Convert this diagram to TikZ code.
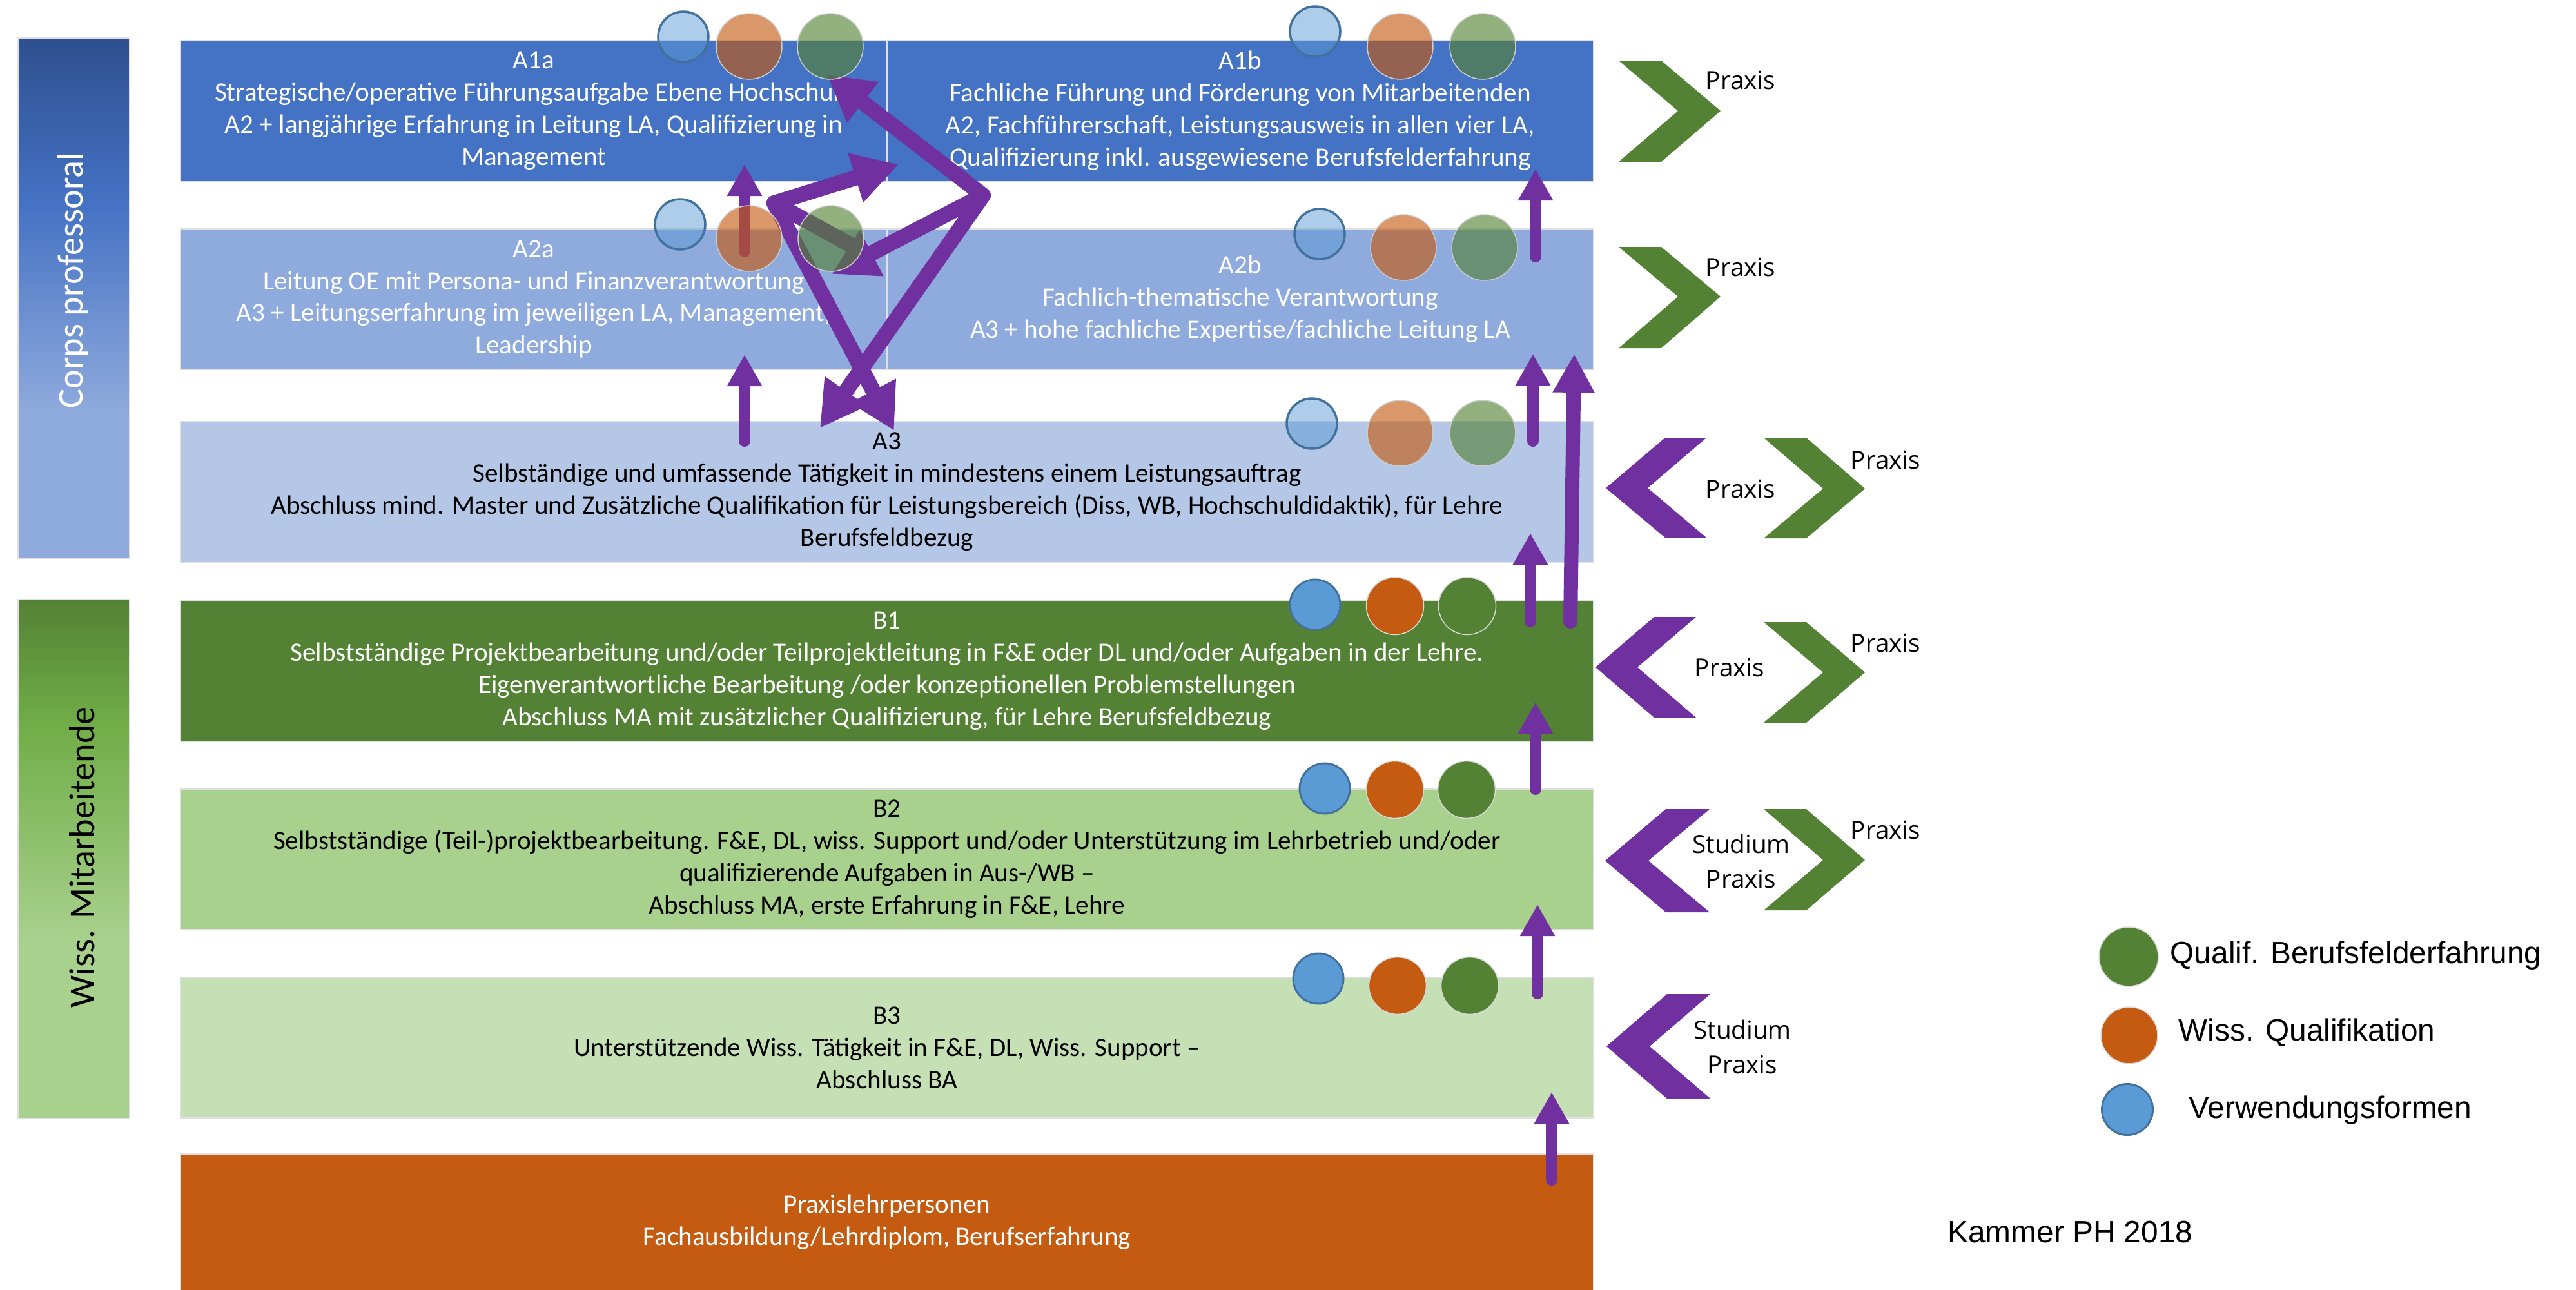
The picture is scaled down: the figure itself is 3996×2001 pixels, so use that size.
\documentclass[tikz,border=0pt]{standalone}
\usepackage{fontspec}
\setmainfont{Carlito}
\newfontfamily\praxisfont{Open Sans}
\newfontfamily\legendfont{Liberation Sans}
\usetikzlibrary{arrows.meta}

\definecolor{profdark}{RGB}{46,80,144}
\definecolor{profmid}{RGB}{68,114,196}
\definecolor{proflight}{RGB}{143,170,220}
\definecolor{profpale}{RGB}{180,199,231}
\definecolor{wissdark}{RGB}{84,130,53}
\definecolor{wissmid}{RGB}{112,173,71}
\definecolor{wisslight}{RGB}{169,209,142}
\definecolor{wisspale}{RGB}{197,224,180}
\definecolor{praxisorange}{RGB}{197,90,17}
\definecolor{arrowpurple}{RGB}{112,48,160}
\definecolor{verwblue}{RGB}{91,155,213}
\definecolor{verwedge}{RGB}{65,113,156}

% side shadings, path spans 25bp..75bp
\pgfdeclareverticalshading{corpsshade}{100bp}{color(0bp)=(proflight); color(39bp)=(proflight); color(59bp)=(profmid); color(75bp)=(profdark); color(100bp)=(profdark)}
\pgfdeclareverticalshading{wissshade}{100bp}{color(0bp)=(wisslight); color(42bp)=(wisslight); color(63bp)=(wissmid); color(75bp)=(wissdark); color(100bp)=(wissdark)}

\begin{document}
\begin{tikzpicture}[x=0.1mm, y=-0.1mm,
  rowbox/.style={rectangle, draw=black!12, line width=0.2mm, inner sep=0pt, align=center,
    minimum height=21.8mm, font=\fontsize{11.7}{14.2}\selectfont},
  sidebox/.style={rectangle, draw=black!12, line width=0.2mm, minimum width=17.3mm},
  uparrow/.style={draw=arrowpurple, line width=1.8mm, line cap=round, -{Triangle[length=4.9mm, width=5.1mm]}},
  zigarrow/.style={draw=arrowpurple, line width=2.4mm, line join=round, line cap=round},
  vcircA/.style={circle, inner sep=0pt, minimum size=7.8mm, fill=verwblue, fill opacity=0.5, draw=verwedge, line width=0.35mm},
  wcircA/.style={circle, inner sep=0pt, minimum size=10.2mm, fill=praxisorange, fill opacity=0.63, draw=black!20, line width=0.15mm},
  qcircA/.style={circle, inner sep=0pt, minimum size=10.2mm, fill=wissdark, fill opacity=0.63, draw=black!20, line width=0.15mm},
  vcircB/.style={circle, inner sep=0pt, minimum size=7.8mm, fill=verwblue, draw=verwedge, line width=0.3mm},
  wcircB/.style={circle, inner sep=0pt, minimum size=8.9mm, fill=praxisorange, draw=black!15, line width=0.15mm},
  qcircB/.style={circle, inner sep=0pt, minimum size=8.9mm, fill=wissdark, draw=black!15, line width=0.15mm},
  chevgreen/.style={fill=wissdark},
  chevpurple/.style={fill=arrowpurple},
  praxislbl/.style={font=\praxisfont\fontsize{11}{15.6}\selectfont, align=center, inner sep=0pt},
  legendlbl/.style={font=\legendfont\fontsize{13.6}{16}\selectfont, anchor=west, inner sep=0pt}]

\useasboundingbox (0,0) rectangle (3996,2001);

% Side labels
\node[sidebox, shading=corpsshade, minimum height=80.7mm] (corps) at (114.5,462.5) {};
\node[sidebox, shading=wissshade, minimum height=80.5mm] (wiss) at (114.5,1332.5) {};
\node[rotate=90, text=white, font=\fontsize{16}{18}\selectfont] (corpslbl) at (114,435) {Corps professoral};
\node[rotate=90, font=\fontsize{16}{18}\selectfont] (wisslbl) at (127,1330) {Wiss. Mitarbeitende};

% Levels
\node[rowbox, fill=profmid, text=white, minimum width=109.6mm] (a1a) at (828,172)
  {A1a\\Strategische/operative Führungsaufgabe Ebene Hochschule\\A2 + langjährige Erfahrung in Leitung LA, Qualifizierung in\\Management};
\node[rowbox, fill=profmid, text=white, minimum width=109.6mm] (a1b) at (1924,172)
  {A1b\\Fachliche Führung und Förderung von Mitarbeitenden\\A2, Fachführerschaft, Leistungsausweis in allen vier LA,\\Qualifizierung inkl. ausgewiesene Berufsfelderfahrung};
\node[rowbox, fill=proflight, text=white, minimum width=109.6mm] (a2a) at (828,464)
  {A2a\\Leitung OE mit Persona- und Finanzverantwortung\\A3 + Leitungserfahrung im jeweiligen LA, Management,\\Leadership};
\node[rowbox, fill=proflight, text=white, minimum width=109.6mm] (a2b) at (1924,464)
  {A2b\\Fachlich-thematische Verantwortung\\A3 + hohe fachliche Expertise/fachliche Leitung LA};
\node[rowbox, fill=profpale, minimum width=219.2mm] (a3) at (1376,763)
  {A3\\Selbständige und umfassende Tätigkeit in mindestens einem Leistungsauftrag\\Abschluss mind. Master und Zusätzliche Qualifikation für Leistungsbereich (Diss, WB, Hochschuldidaktik), für Lehre\\Berufsfeldbezug};
\node[rowbox, fill=wissdark, text=white, minimum width=219.2mm] (b1) at (1376,1041)
  {B1\\Selbstständige Projektbearbeitung und/oder Teilprojektleitung in F\&E oder DL und/oder Aufgaben in der Lehre.\\Eigenverantwortliche Bearbeitung /oder konzeptionellen Problemstellungen\\Abschluss MA mit zusätzlicher Qualifizierung, für Lehre Berufsfeldbezug};
\node[rowbox, fill=wisslight, minimum width=219.2mm] (b2) at (1376,1333)
  {B2\\Selbstständige (Teil-)projektbearbeitung. F\&E, DL, wiss. Support und/oder Unterstützung im Lehrbetrieb und/oder\\qualifizierende Aufgaben in Aus-/WB –\\Abschluss MA, erste Erfahrung in F\&E, Lehre};
\node[rowbox, fill=wisspale, minimum width=219.2mm] (b3) at (1376,1625)
  {B3\\Unterstützende Wiss. Tätigkeit in F\&E, DL, Wiss. Support –\\Abschluss BA};
\node[rowbox, fill=praxisorange, text=white, minimum width=219.2mm, minimum height=21.2mm] (plp) at (1376,1896)
  {Praxislehrpersonen\\Fachausbildung/Lehrdiplom, Berufserfahrung};

% Upward steps
\coordinate (s1) at (1155,390);  \coordinate (e1) at (1155,255);
\coordinate (s2) at (1155,684);  \coordinate (e2) at (1155,550);
\coordinate (s3) at (2382,398);  \coordinate (e3) at (2382,262);
\coordinate (s4) at (2378,684);  \coordinate (e4) at (2378,549);
\coordinate (s5) at (2374,964);  \coordinate (e5) at (2374,827);
\coordinate (s6) at (2436,964);  \coordinate (e6) at (2442,549);
\coordinate (s7) at (2382,1224); \coordinate (e7) at (2382,1089);
\coordinate (s8) at (2385,1541); \coordinate (e8) at (2385,1403);
\coordinate (s9) at (2407,1830); \coordinate (e9) at (2407,1694);
\foreach \i in {1,2,3,4,5,7,8,9}
  \draw[uparrow] (s\i) -- (e\i);
\draw[uparrow, line width=2.2mm, -{Triangle[length=6mm, width=6.1mm]}] (s6) -- (e6);

% Crossing moves between A1, A2 and A3
\coordinate (zl) at (1201,315);
\coordinate (zr) at (1525,303);
\coordinate (za1b) at (1394,255);
\coordinate (za1a) at (1283,116);
\coordinate (za2a) at (1290,425);
\coordinate (za2c) at (1325,383);
\coordinate (za3r) at (1387,668);
\coordinate (za3l) at (1272,664);
\draw[zigarrow, {Triangle[length=7mm, width=7.5mm]}-{Triangle[length=7mm, width=7.5mm]}] (za1b) -- (zl) -- (za3r);
\draw[zigarrow, {Triangle[length=7mm, width=7.5mm]}-{Triangle[length=7mm, width=7.5mm]}] (za1a) -- (zr) -- (za3l);
\draw[zigarrow, -{Triangle[length=7mm, width=7.5mm]}] (zr) -- (za2a);
\draw[zigarrow] (zl) -- (za2c);

% Circles per level
\node[vcircA] (a1a-v) at (1060,57) {};
\node[wcircA] (a1a-w) at (1162,72) {};
\node[qcircA] (a1a-q) at (1288,72) {};
\node[vcircA] (a1b-v) at (2040,49) {};
\node[wcircA] (a1b-w) at (2172,72) {};
\node[qcircA] (a1b-q) at (2300,72) {};
\node[vcircA] (a2a-v) at (1055,348) {};
\node[wcircA] (a2a-w) at (1162,370) {};
\node[qcircA] (a2a-q) at (1289,370) {};
\node[vcircA] (a2b-v) at (2047,363) {};
\node[wcircA] (a2b-w) at (2177,384) {};
\node[qcircA] (a2b-q) at (2303,384) {};
\node[vcircA] (a3-v) at (2035,657) {};
\node[wcircA] (a3-w) at (2172,672) {};
\node[qcircA] (a3-q) at (2300,672) {};
\node[vcircB] (b1-v) at (2040,938) {};
\node[wcircB] (b1-w) at (2164,940) {};
\node[qcircB] (b1-q) at (2276,940) {};
\node[vcircB] (b2-v) at (2055,1223) {};
\node[wcircB] (b2-w) at (2164,1225) {};
\node[qcircB] (b2-q) at (2275,1225) {};
\node[vcircB] (b3-v) at (2045,1518) {};
\node[wcircB] (b3-w) at (2168,1529) {};
\node[qcircB] (b3-q) at (2280,1529) {};

% Chevrons
\fill[chevgreen] (2511,94) -- ++(66,0) -- ++(92,78) -- ++(-92,79) -- ++(-66,0) -- ++(92,-79) -- cycle;
\fill[chevgreen] (2511,383) -- ++(66,0) -- ++(92,77) -- ++(-92,80) -- ++(-66,0) -- ++(92,-80) -- cycle;
\fill[chevgreen] (2736,679) -- ++(66,0) -- ++(91,79) -- ++(-91,77) -- ++(-66,0) -- ++(92,-77) -- cycle;
\fill[chevgreen] (2736,965) -- ++(66,0) -- ++(91,78) -- ++(-91,78) -- ++(-66,0) -- ++(92,-78) -- cycle;
\fill[chevgreen] (2736,1255) -- ++(66,0) -- ++(91,79) -- ++(-91,78) -- ++(-66,0) -- ++(92,-78) -- cycle;
\fill[chevpurple] (2491,757) -- ++(92,-78) -- ++(64,0) -- ++(-91,78) -- ++(91,77) -- ++(-64,0) -- cycle;
\fill[chevpurple] (2475,1035) -- ++(91,-78) -- ++(65,0) -- ++(-91,78) -- ++(91,78) -- ++(-65,0) -- cycle;
\fill[chevpurple] (2490,1335) -- ++(94,-80) -- ++(68,0) -- ++(-95,80) -- ++(95,80) -- ++(-68,0) -- cycle;
\fill[chevpurple] (2492,1623) -- ++(94,-81) -- ++(67,0) -- ++(-94,81) -- ++(94,81) -- ++(-67,0) -- cycle;

\node[praxislbl] (px1) at (2700,124) {Praxis};
\node[praxislbl] (px2) at (2700,414) {Praxis};
\node[praxislbl] (px3) at (2700,758) {Praxis};
\node[praxislbl] (px3r) at (2925,713) {Praxis};
\node[praxislbl] (px4) at (2683,1035) {Praxis};
\node[praxislbl] (px4r) at (2925,997) {Praxis};
\node[praxislbl] (px5) at (2701,1336) {Studium\\Praxis};
\node[praxislbl] (px5r) at (2925,1287) {Praxis};
\node[praxislbl] (px6) at (2703,1624) {Studium\\Praxis};

% Legend
\node[qcircB, minimum size=9.2mm] (lg-q) at (3302,1484) {};
\node[wcircB, minimum size=8.8mm] (lg-w) at (3303,1606) {};
\node[vcircB, minimum size=7.9mm] (lg-v) at (3300,1721) {};
\node[legendlbl] (lg-qt) at (3366,1482) {Qualif. Berufsfelderfahrung};
\node[legendlbl] (lg-wt) at (3379,1602) {Wiss. Qualifikation};
\node[legendlbl] (lg-vt) at (3395,1722) {Verwendungsformen};
\node[font=\legendfont\fontsize{13.6}{16}\selectfont, anchor=east, inner sep=0pt] (quelle) at (3402,1911) {Kammer PH 2018};
\end{tikzpicture}
\end{document}
